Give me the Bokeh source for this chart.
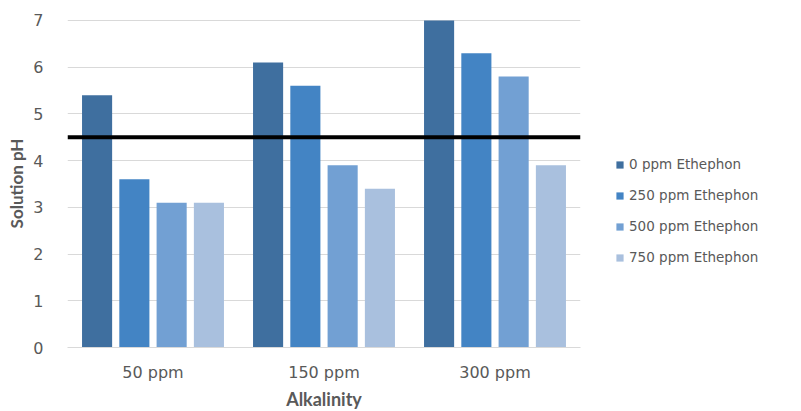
from bokeh.plotting import figure
from bokeh.models import FactorRange, ColumnDataSource, Legend, LegendItem, Span, FixedTicker
from bokeh.transform import dodge
from bokeh.embed import file_html
from bokeh.resources import INLINE

categories = ["50 ppm", "150 ppm", "300 ppm"]
series_names = ["0 ppm Ethephon", "250 ppm Ethephon", "500 ppm Ethephon", "750 ppm Ethephon"]
ppm0 = [5.4, 6.1, 7.0]
ppm250 = [3.6, 5.6, 6.3]
ppm500 = [3.1, 3.9, 5.8]
ppm750 = [3.1, 3.4, 3.9]
threshold = 4.5
y_ticks = [0, 1, 2, 3, 4, 5, 6, 7]

colors = ["#3f6f9f", "#4384c4", "#72a0d3", "#a9c0de"]
offsets = [-0.327, -0.109, 0.109, 0.327]

src = ColumnDataSource(dict(cat=categories, s0=ppm0, s1=ppm250, s2=ppm500, s3=ppm750))

p = figure(x_range=FactorRange(*categories), y_range=(0, 7.02),
           frame_width=513, frame_height=328, output_backend="svg", toolbar_location=None,
           min_border_left=67, min_border_top=19, min_border_bottom=44, min_border_right=5)

items = []
for i, (name, col) in enumerate(zip(series_names, colors)):
    r = p.vbar(x=dodge("cat", offsets[i], range=p.x_range), top="s%d" % i, width=0.176,
               source=src, fill_color=col, line_color=None)
    items.append(LegendItem(label=name, renderers=[r]))

p.add_layout(Span(location=threshold, dimension="width", line_color="black", line_width=4))

legend = Legend(items=items, location=(35, 80), orientation="vertical",
                border_line_color=None, background_fill_alpha=0,
                glyph_width=9, glyph_height=9, label_standoff=5, spacing=11,
                label_text_font="DejaVu Sans", label_text_font_size="13.5px",
                label_text_color="#595959", label_height=20)
p.add_layout(legend, "right")

p.outline_line_color = None
p.xgrid.grid_line_color = None
p.ygrid.grid_line_color = "#d9d9d9"
p.ygrid.grid_line_width = 1

p.yaxis.ticker = FixedTicker(ticks=y_ticks)
p.yaxis.axis_line_color = None
p.yaxis.major_tick_line_color = None
p.yaxis.minor_tick_line_color = None
p.yaxis.major_label_text_font = "DejaVu Sans"
p.yaxis.major_label_text_font_size = "16px"
p.yaxis.major_label_text_color = "#595959"
p.yaxis.major_label_standoff = 18
p.yaxis.axis_label = "Solution pH"
p.yaxis.axis_label_text_font = "Lato"
p.yaxis.axis_label_text_font_style = "bold"
p.yaxis.axis_label_text_font_size = "17px"
p.yaxis.axis_label_text_color = "#595959"
p.yaxis.axis_label_standoff = 3

p.xaxis.axis_line_color = "#d9d9d9"
p.xaxis.major_tick_line_color = None
p.xaxis.minor_tick_line_color = None
p.xaxis.major_label_text_font = "DejaVu Sans"
p.xaxis.major_label_text_font_size = "16px"
p.xaxis.major_label_text_color = "#595959"
p.xaxis.major_label_standoff = 9
p.xaxis.axis_label = "Alkalinity"
p.xaxis.axis_label_text_font = "Lato"
p.xaxis.axis_label_text_font_style = "bold"
p.xaxis.axis_label_text_font_size = "18px"
p.xaxis.axis_label_text_color = "#595959"
p.xaxis.axis_label_standoff = 3

open("out.html", "w").write(file_html(p, INLINE))
